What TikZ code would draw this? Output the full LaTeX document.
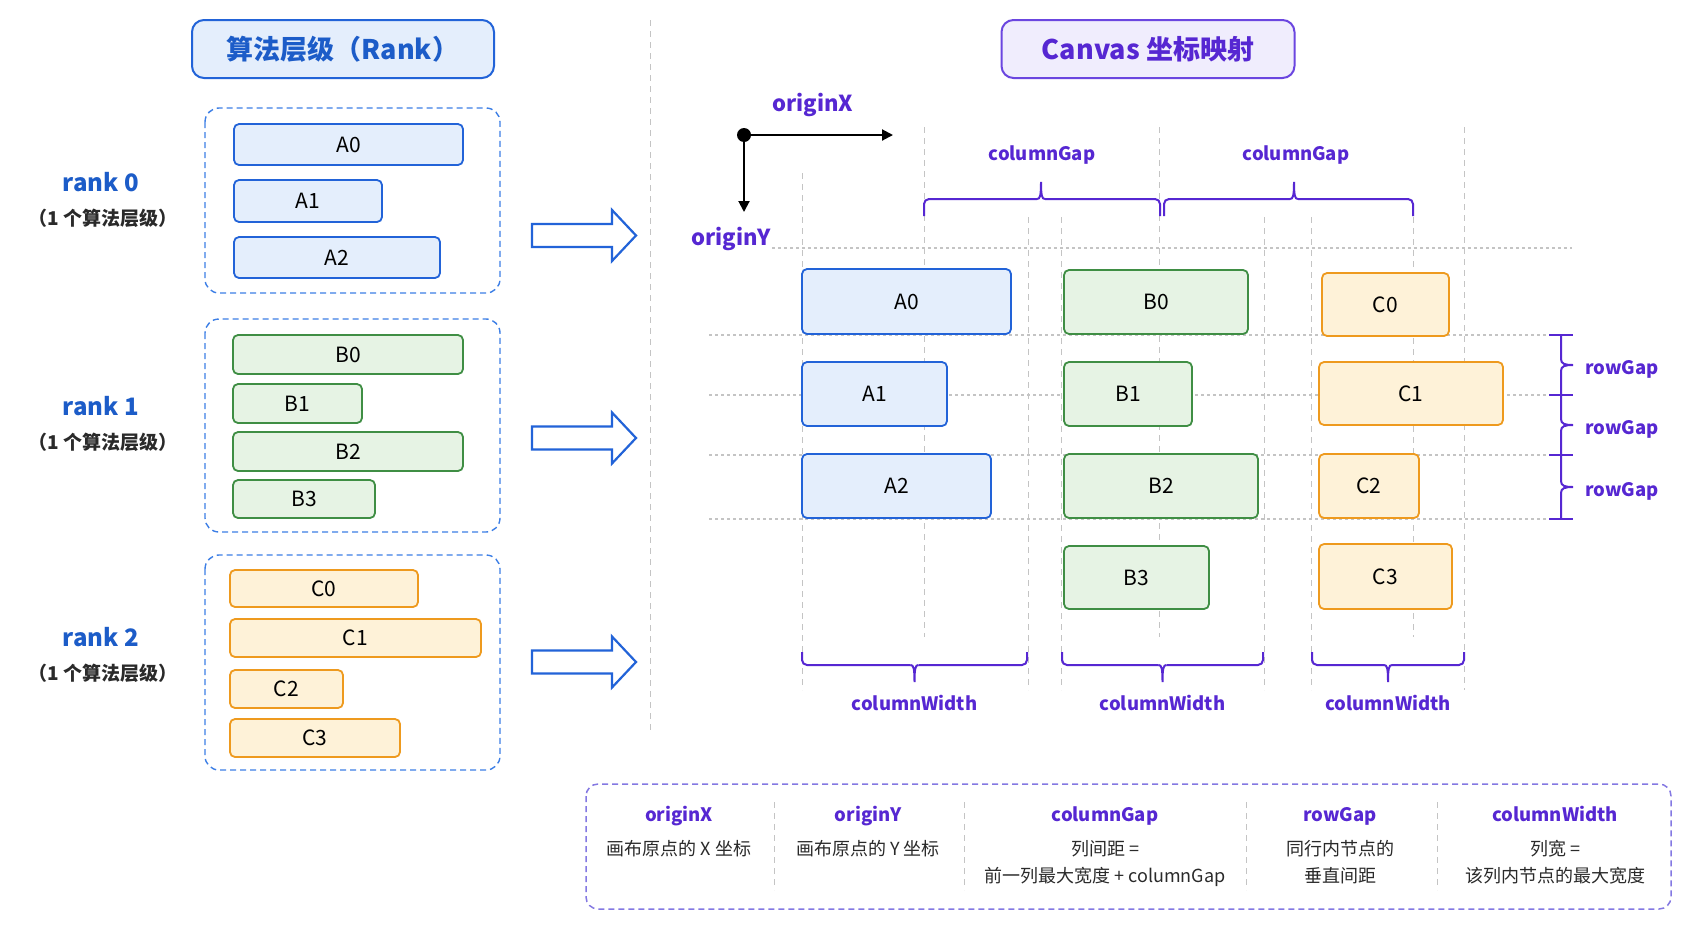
\documentclass[tikz,border=0pt]{standalone}
\usepackage{fontspec}
\setmainfont{Noto Sans CJK SC}
\usetikzlibrary{arrows.meta}
\definecolor{bluebd}{HTML}{2263D8}
\definecolor{bluefl}{HTML}{E4EEFC}
\definecolor{bluetx}{HTML}{1C5CC8}
\definecolor{greenbd}{HTML}{3F8E44}
\definecolor{greenfl}{HTML}{E6F3E4}
\definecolor{orangebd}{HTML}{EE9A1E}
\definecolor{orangefl}{HTML}{FEF2D8}
\definecolor{purp}{HTML}{5627D2}
\definecolor{purpbd}{HTML}{6B46E0}
\definecolor{purpfl}{HTML}{F0EDFD}
\definecolor{purpdash}{HTML}{8478E2}
\definecolor{dashblue}{HTML}{3D7FE6}
\definecolor{gridgray}{HTML}{C4C4C4}
\definecolor{subtx}{HTML}{2A2A2A}
\newcommand\bx[7]{\node[#6, minimum width={(#4-#2)*1pt}, minimum height={(#5-#3)*1pt}] (#1) at ({(#2+#4)/2},{(#3+#5)/2}) {#7};}
\newcommand\barrow[2]{\draw[blockarrow] (532,#2-11.5) -- (612,#2-11.5) -- (612,#2-25.5) -- (636,#2) -- (612,#2+25.5) -- (612,#2+11.5) -- (532,#2+11.5) -- cycle;\coordinate (#1) at (636,#2);}
\newcommand\gapbrace[4]{%
  \draw[brc, rounded corners=5pt] (#1,#4+17) -- (#1,#4) -- (#3-4,#4);
  \draw[brc, rounded corners=5pt] (#3+4,#4) -- (#2,#4) -- (#2,#4+17);
  \draw[brc] (#3-4,#4) .. controls (#3-1,#4) and (#3,#4-3) .. (#3,#4-17) .. controls (#3,#4-3) and (#3+1,#4) .. (#3+4,#4);}
\newcommand\widthbrace[3]{%
  \draw[brc, rounded corners=5pt] (#1,652) -- (#1,665) -- ({(#1+#2)/2-4},665);
  \draw[brc, rounded corners=5pt] ({(#1+#2)/2+4},665) -- (#2,665) -- (#2,652);
  \draw[brc] ({(#1+#2)/2-4},665) .. controls ({(#1+#2)/2-1},665) and ({(#1+#2)/2},668) .. ({(#1+#2)/2},682) .. controls ({(#1+#2)/2},668) and ({(#1+#2)/2+1},665) .. ({(#1+#2)/2+4},665);
  \node[plabel] (#3) at ({(#1+#2)/2},704) {columnWidth};}
\newcommand\rowbrace[3]{%
  \draw[brc] (1549,#1) -- (1573,#1);
  \draw[brc] (1549,#2) -- (1573,#2);
  \draw[brc] (1561,#1) -- (1561,{(#1+#2)/2-6}) .. controls (1561,{(#1+#2)/2-1}) and (1565,{(#1+#2)/2}) .. (1573,{(#1+#2)/2}) .. controls (1565,{(#1+#2)/2}) and (1561,{(#1+#2)/2+1}) .. (1561,{(#1+#2)/2+6}) -- (1561,#2);
  \node[plabel, anchor=west] (#3) at (1585,{(#1+#2)/2+3}) {rowGap};}
\begin{document}
\begin{tikzpicture}[x=1pt,y=-1pt,
  bbox/.style={draw=bluebd, fill=bluefl, rounded corners=5pt, line width=1.8pt, inner sep=0pt, text=black, font=\fontsize{21}{24}\selectfont},
  gbox/.style={bbox, draw=greenbd, fill=greenfl},
  obox/.style={bbox, draw=orangebd, fill=orangefl},
  rankbox/.style={draw=dashblue, dash pattern=on 6pt off 4pt, line width=1.4pt, rounded corners=14pt},
  blockarrow/.style={draw=bluebd, fill=white, line width=2.2pt, line join=miter},
  vgrid/.style={draw=gridgray, line width=1pt, dash pattern=on 6pt off 5pt},
  hgrid/.style={draw=gridgray, line width=1.2pt, dash pattern=on 3pt off 3pt},
  brc/.style={draw=purp, line width=2pt},
  plabel/.style={text=purp, font=\fontsize{18.5}{22}\selectfont\bfseries, inner sep=0pt, text height=0.76em, text depth=0.22em, yshift=-4pt},
  ranklbl/.style={text=bluetx, font=\fontsize{24}{28}\selectfont\bfseries, inner sep=0pt},
  ranksub/.style={text=subtx, font=\fontsize{19}{22}\selectfont\bfseries, inner sep=0pt},
  axis/.style={line width=2pt, -{Triangle[length=11pt,width=11pt]}},
  bodytx/.style={text=subtx, font=\fontsize{18}{22}\selectfont, inner sep=0pt, text height=0.8em, text depth=0.2em, yshift=-3pt}
]
\useasboundingbox[fill=white] (0,0) rectangle (1693,929);

% ---------- left panel ----------
\node[draw=bluebd, fill=bluefl, rounded corners=12pt, line width=2pt, minimum width=302pt, minimum height=58pt, text=bluetx, font=\fontsize{27}{30}\selectfont\bfseries] (ltitle) at (343,49) {算法层级（Rank）};

\draw[rankbox] (205,108) rectangle (500,293);
\draw[rankbox] (205,319) rectangle (500,532);
\draw[rankbox] (205,555) rectangle (500,770);

\bx{lA0}{234}{124}{463}{165}{bbox}{A0}
\bx{lA1}{234}{180}{382}{222}{bbox}{A1}
\bx{lA2}{234}{237}{440}{278}{bbox}{A2}

\bx{lB0}{233}{335}{463}{374}{gbox}{B0}
\bx{lB1}{233}{384}{362}{423}{gbox}{B1}
\bx{lB2}{233}{432}{463}{471}{gbox}{B2}
\bx{lB3}{233}{480}{375}{518}{gbox}{B3}

\bx{lC0}{230}{570}{418}{607}{obox}{C0}
\bx{lC1}{230}{619}{481}{657}{obox}{C1}
\bx{lC2}{230}{670}{343}{708}{obox}{C2}
\bx{lC3}{230}{719}{400}{757}{obox}{C3}

\node[ranklbl] (r0) at (101,182) {rank 0};
\node[ranksub] (r0s) at (103,218) {（1 个算法层级）};
\node[ranklbl] (r1) at (101,406) {rank 1};
\node[ranksub] (r1s) at (103,442) {（1 个算法层级）};
\node[ranklbl] (r2) at (101,637) {rank 2};
\node[ranksub] (r2s) at (103,673) {（1 个算法层级）};

\barrow{ar0}{235.5}
\barrow{ar1}{438}
\barrow{ar2}{662}

\draw[vgrid] (650,20) -- (650,733);

% ---------- right panel ----------
\node[draw=purpbd, fill=purpfl, rounded corners=12pt, line width=2pt, minimum width=293pt, minimum height=58pt, text=purp, font=\fontsize{27}{30}\selectfont\bfseries] (rtitle) at (1148,49) {Canvas 坐标映射};

% grid lines
\foreach \x/\a/\b in {802/173/690, 924/127/637, 1028/217/690, 1061/217/690, 1159/127/637, 1264/217/690, 1311/217/690, 1413/217/637, 1464/127/690}
  \draw[vgrid] (\x,\a) -- (\x,\b);
\draw[hgrid] (772,248) -- (1572,248);
\foreach \y in {335,395,455,519}
  \draw[hgrid] (709,\y) -- (1549,\y);

% origin
\node[circle, fill=black, minimum size=14pt, inner sep=0pt] (org) at (744,135) {};
\coordinate (ox) at (893,135);
\coordinate (oy) at (744,212);
\draw[axis] (org.center) -- (ox);
\draw[axis] (org.center) -- (oy);
\node[plabel, font=\fontsize{22}{26}\selectfont\bfseries] (oxl) at (813,105) {originX};
\node[plabel, font=\fontsize{22}{26}\selectfont\bfseries] (oyl) at (731,239) {originY};

% column gap braces
\gapbrace{924}{1160}{1041}{199}
\gapbrace{1164}{1413}{1294}{199}
\node[plabel] (cg1) at (1042,154) {columnGap};
\node[plabel] (cg2) at (1296,154) {columnGap};

% boxes
\bx{A0}{802}{269}{1011}{334}{bbox}{A0}
\bx{B0}{1064}{270}{1248}{334}{gbox}{B0}
\bx{C0}{1322}{273}{1449}{336}{obox}{C0}
\bx{A1}{802}{362}{947}{426}{bbox}{A1}
\bx{B1}{1064}{362}{1192}{426}{gbox}{B1}
\bx{C1}{1319}{362}{1503}{425}{obox}{C1}
\bx{A2}{802}{454}{991}{518}{bbox}{A2}
\bx{B2}{1064}{454}{1258}{518}{gbox}{B2}
\bx{C2}{1319}{454}{1419}{518}{obox}{C2}
\bx{B3}{1064}{546}{1209}{609}{gbox}{B3}
\bx{C3}{1319}{544}{1452}{609}{obox}{C3}

% row gap braces
\rowbrace{335}{395}{rg1}
\rowbrace{395}{455}{rg2}
\rowbrace{455}{519}{rg3}

% column width braces
\widthbrace{802}{1027}{cw1}
\widthbrace{1062}{1263}{cw2}
\widthbrace{1312}{1464}{cw3}

% ---------- legend ----------
\draw[draw=purpdash, dash pattern=on 6pt off 4pt, line width=1.5pt, rounded corners=12pt, fill=white] (586,784) rectangle (1671,909);
\foreach \x in {774,964,1246,1437}
  \draw[vgrid, line width=0.8pt] (\x,802) -- (\x,890);
\node[plabel] (h1) at (679,815) {originX};
\node[bodytx] (t1) at (679,849) {画布原点的 X 坐标};
\node[plabel] (h2) at (868,815) {originY};
\node[bodytx] (t2) at (868,849) {画布原点的 Y 坐标};
\node[plabel] (h3) at (1105,815) {columnGap};
\node[bodytx] (t3a) at (1105,849) {列间距 =};
\node[bodytx] (t3b) at (1105,876) {前一列最大宽度 + columnGap};
\node[plabel] (h4) at (1340,815) {rowGap};
\node[bodytx] (t4a) at (1340,849) {同行内节点的};
\node[bodytx] (t4b) at (1340,876) {垂直间距};
\node[plabel] (h5) at (1555,815) {columnWidth};
\node[bodytx] (t5a) at (1555,849) {列宽 =};
\node[bodytx] (t5b) at (1555,876) {该列内节点的最大宽度};
\end{tikzpicture}
\end{document}
